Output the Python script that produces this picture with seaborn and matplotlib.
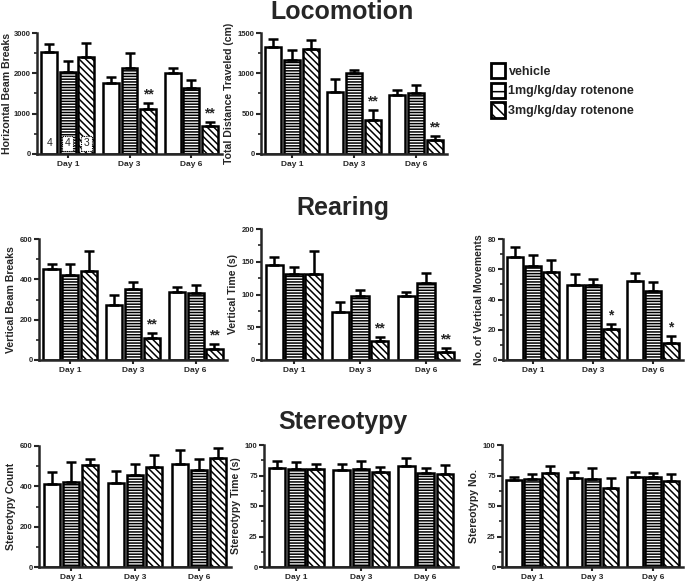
import matplotlib
matplotlib.use("Agg")
import matplotlib.pyplot as plt
from matplotlib.patches import Patch
from matplotlib.ticker import MultipleLocator, AutoMinorLocator
import seaborn as sns
import pandas as pd

days = ["Day 1", "Day 3", "Day 6"]
groups = ["vehicle", "1mg/kg/day rotenone", "3mg/kg/day rotenone"]

# means and SEM, one row per group (vehicle, 1mg, 3mg), columns = days
hbb_mean = [[2530, 1770, 2010], [2040, 2130, 1630], [2400, 1125, 690]]
hbb_err = [[205, 130, 125], [255, 375, 195], [350, 140, 95]]

dist_mean = [[1326, 773, 731], [1161, 1000, 756], [1306, 426, 169]]
dist_err = [[104, 161, 58], [132, 41, 104], [103, 115, 50]]

vbb_mean = [[453, 275, 338], [423, 352, 332], [439, 111, 56]]
vbb_err = [[23, 47, 23], [53, 33, 41], [100, 25, 24]]

vtime_mean = [[145, 73.5, 97.5], [132, 97.5, 117.5], [132, 29, 12.5]]
vtime_err = [[13, 15.5, 7], [10, 10, 15.5], [35, 6, 6.5]]

vmov_mean = [[67.8, 49.3, 52.4], [61.9, 49.7, 45.7], [57.9, 20.6, 11.5]]
vmov_err = [[6.9, 7.3, 5.1], [7.7, 4.0, 5.6], [8.2, 3.0, 4.4]]

scount_mean = [[413, 416, 509], [423, 456, 483], [504, 496, 542]]
scount_err = [[58, 62, 69], [98, 55, 54], [33, 58, 50]]

stime_mean = [[81.4, 79.5, 82.5], [80.3, 80.0, 76.7], [80.3, 78.0, 75.9]]
stime_err = [[5.4, 5.2, 6.5], [5.5, 6.8, 4.7], [4.4, 4.0, 8.1]]

sno_mean = [[71.2, 72.6, 74.0], [72.0, 72.0, 73.4], [76.7, 65.0, 70.7]]
sno_err = [[2.8, 5.4, 4.0], [3.9, 8.8, 3.9], [6.3, 8.0, 5.5]]

n_labels = ["4", "4", "3"]

hatches = ["", "------", "\\\\\\\\\\"]

sns.set_style("ticks")
plt.rcParams["font.family"] = ["Liberation Sans", "DejaVu Sans"]
plt.rcParams["hatch.linewidth"] = 1.1


def rect(l, r, t, b):
    W, H = 685.0, 582.0
    return [l / W, 1 - b / H, (r - l) / W, (b - t) / H]


def panel(fig, pos, mean, err, ylabel, ymax, step, stars="", nlab=False,
          pad=3):
    rows = []
    for g, m_row, e_row in zip(groups, mean, err):
        for d, m, e in zip(days, m_row, e_row):
            rows.append({"day": d, "group": g, "mean": m, "err": e})
    df = pd.DataFrame(rows)

    ax = fig.add_axes(pos)
    sns.barplot(data=df, x="day", y="mean", hue="group", hue_order=groups,
                order=days, palette={g: "white" for g in groups},
                edgecolor="black", linewidth=1.8, errorbar=None,
                width=0.9, gap=0.14, legend=False, ax=ax)

    bars = sorted(ax.patches, key=lambda p: p.get_x())
    for i, bar in enumerate(bars):
        di, gi = divmod(i, 3)
        e = err[gi][di]
        bar.set_hatch(hatches[gi])
        cx = bar.get_x() + bar.get_width() / 2
        h = bar.get_height()
        ax.errorbar(cx, h, yerr=[[0], [e]], fmt="none", ecolor="black",
                    elinewidth=1.8, capsize=3.6, capthick=1.8, zorder=1)
        if gi == 2 and stars and di > 0:
            ax.text(cx, h + e + ymax * 0.012, stars, ha="center",
                    va="bottom", fontsize=10, fontweight="bold")
        if nlab and di == 0:
            if gi > 0:
                style = dict(boxstyle="square,pad=0.25", fc="white",
                             ec="black", ls=(0, (1, 1)), lw=0.8)
            else:
                style = dict(boxstyle="square,pad=0.25", fc="white",
                             ec="none")
            ax.text(cx, ymax * 0.09, n_labels[gi], ha="center",
                    va="center", fontsize=7.5, bbox=style)

    ax.set_xlim(-0.5, 2.5)
    ax.set_ylim(0, ymax)
    ax.yaxis.set_major_locator(MultipleLocator(step))
    ax.yaxis.set_minor_locator(AutoMinorLocator(2))
    ax.set_xlabel("")
    ax.set_ylabel(ylabel, fontsize=7.6, fontweight="bold", labelpad=pad)
    sns.despine(ax=ax)
    for s in ["left", "bottom"]:
        ax.spines[s].set_linewidth(1.8)
    ax.tick_params(axis="y", which="major", length=3.5, width=1.5,
                   labelsize=5.5, pad=1)
    ax.tick_params(axis="y", which="minor", length=2.5, width=1.2)
    ax.tick_params(axis="x", length=3, width=1.5, labelsize=6, pad=2)
    for lab in ax.get_xticklabels() + ax.get_yticklabels():
        lab.set_fontweight("bold")
    return ax


fig = plt.figure(figsize=(6.85, 5.82), dpi=100)

panel(fig, rect(37, 222, 33, 154), hbb_mean, hbb_err,
      "Horizontal Beam Breaks", 3000, 1000, "**", nlab=True, pad=1)
panel(fig, rect(261, 447, 33, 154), dist_mean, dist_err,
      "Total Distance Traveled (cm)", 1500, 500, "**")

panel(fig, rect(39, 227, 239, 360), vbb_mean, vbb_err,
      "Vertical Beam Breaks", 600, 200, "**")
panel(fig, rect(261, 459, 229, 360), vtime_mean, vtime_err,
      "Vertical Time (s)", 200, 50, "**")
panel(fig, rect(503, 683, 239, 360), vmov_mean, vmov_err,
      "No. of Vertical Movements", 80, 20, "*")

panel(fig, rect(39, 231, 446, 567), scount_mean, scount_err,
      "Stereotypy Count", 600, 200)
panel(fig, rect(264, 458, 445, 567), stime_mean, stime_err,
      "Stereotypy Time (s)", 100, 25)
panel(fig, rect(502, 683, 445, 567), sno_mean, sno_err,
      "Stereotypy No.", 100, 25)

for txt, ypx in [("Locomotion", 12), ("Rearing", 208), ("Stereotypy", 422)]:
    fig.text(0.5, 1 - ypx / 582, txt, ha="center", va="center",
             fontsize=18, fontweight="bold")

leg_hatches = ["", "-", "\\\\\\"]
handles = [Patch(facecolor="white", edgecolor="black", linewidth=2,
                 hatch=h, label=g) for g, h in zip(groups, leg_hatches)]
fig.legend(handles=handles, loc="upper left",
           bbox_to_anchor=(486 / 685, 1 - 58 / 582), frameon=False,
           prop={"weight": "bold", "size": 9}, handlelength=1.1,
           handleheight=1.5, handletextpad=0.3, labelspacing=0.35,
           borderaxespad=0)

fig.savefig("out.png", dpi=100)
